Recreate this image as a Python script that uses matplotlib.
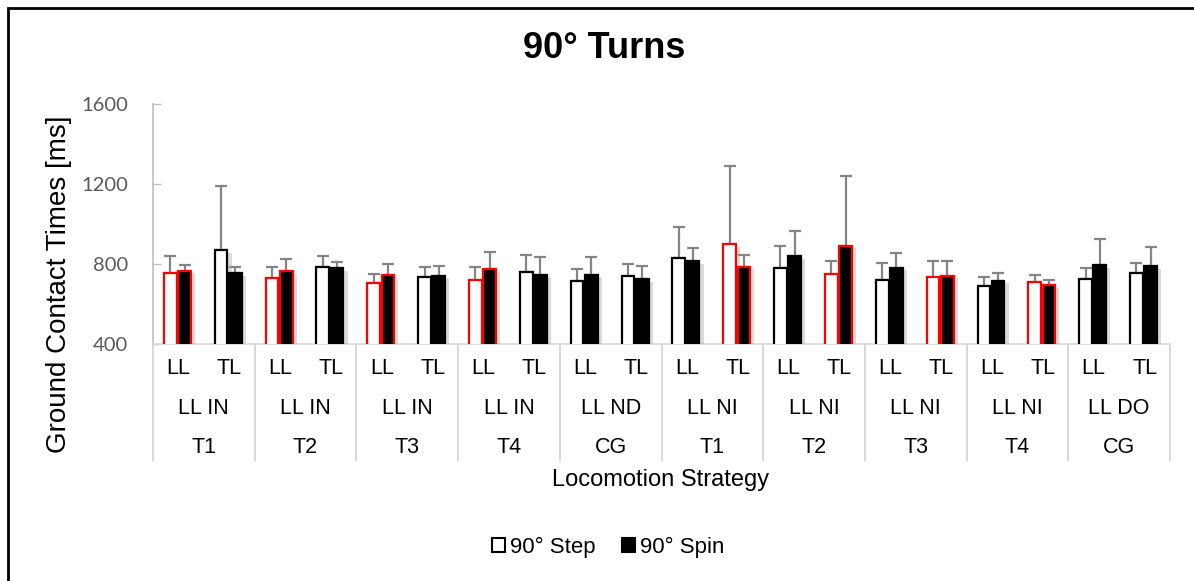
import matplotlib.pyplot as plt
import matplotlib.patheffects as pe
from matplotlib.patches import Patch, Rectangle
from matplotlib.lines import Line2D
import numpy as np

limb = ['LL', 'TL'] * 10
strategy = ['LL IN', 'LL IN', 'LL IN', 'LL IN', 'LL ND',
            'LL NI', 'LL NI', 'LL NI', 'LL NI', 'LL DO']
trial = ['T1', 'T2', 'T3', 'T4', 'CG', 'T1', 'T2', 'T3', 'T4', 'CG']

step_mean = [755, 868, 732, 783, 705, 735, 718, 762, 715, 742,
             828, 900, 780, 752, 718, 733, 692, 712, 727, 757]
step_sd = [83, 324, 55, 55, 43, 50, 69, 83, 62, 60,
           159, 390, 112, 63, 85, 84, 41, 31, 51, 50]
spin_mean = [765, 755, 765, 778, 747, 742, 773, 747, 747, 725,
             813, 787, 840, 892, 782, 742, 717, 693, 795, 788]
spin_sd = [30, 28, 60, 32, 51, 50, 89, 86, 86, 67,
           67, 60, 125, 348, 73, 71, 40, 27, 132, 97]
# categories whose bars are outlined in red
highlight = [1, 0, 1, 0, 1, 0, 1, 0, 0, 0,
             0, 1, 0, 1, 0, 1, 0, 1, 0, 0]

plt.rcParams['font.family'] = ['Liberation Sans', 'DejaVu Sans']

fig = plt.figure(figsize=(11.94, 5.81), dpi=100)
ax = fig.add_axes([153/1194, 1-344/581, (1170-153)/1194, 240/581])

x = np.arange(len(step_mean))
edges = ['#ff0000' if h else 'black' for h in highlight]
shadow = [pe.SimplePatchShadow(offset=(3, -2), shadow_rgbFace='#9a9a9a', alpha=0.35), pe.Normal()]
w = 0.25

b1 = ax.bar(x - 0.16, step_mean, w, color='white', edgecolor=edges, linewidth=1.6, zorder=3)
b2 = ax.bar(x + 0.12, spin_mean, w, color='black', edgecolor=edges, linewidth=1.6, zorder=3)
for b in list(b1) + list(b2):
    b.set_path_effects(shadow)

for off, m, s in [(-0.16, step_mean, step_sd), (0.12, spin_mean, spin_sd)]:
    ax.errorbar(x + off, m, yerr=[np.zeros(len(s)), s], fmt='none', ecolor='#858585',
                elinewidth=1.6, capsize=4.5, capthick=1.6, zorder=2)

ax.set_xlim(-0.5, len(x) - 0.5)
ax.set_ylim(400, 1600)
ax.set_yticks([400, 800, 1200, 1600])
ax.tick_params(axis='y', direction='in', length=5.5, width=1, color='#bfbfbf',
               labelcolor='#595959', labelsize=14.5, pad=18)
for lab in ax.get_yticklabels():
    lab.set_family(['Lato', 'DejaVu Sans'])
ax.set_xticks([])
for sp in ['top', 'right']:
    ax.spines[sp].set_visible(False)
ax.spines['left'].set_color('#bfbfbf')
ax.spines['bottom'].set_color('#d9d9d9')
ax.spines['left'].set_linewidth(1.2)
ax.spines['bottom'].set_linewidth(1.2)

# multi-level category labels
trans = ax.get_xaxis_transform()
for i, t in enumerate(limb):
    ax.text(i, -0.1, t, transform=trans, ha='center', va='center', fontsize=15.5)
for j in range(len(strategy)):
    ax.text(2*j + 0.5, -0.27, strategy[j], transform=trans, ha='center', va='center', fontsize=15.5)
    ax.text(2*j + 0.5, -0.43, trial[j], transform=trans, ha='center', va='center', fontsize=15.5)
for j in range(len(strategy) + 1):
    ax.add_line(Line2D([2*j - 0.5, 2*j - 0.5], [0, -0.483], transform=trans,
                       color='#d9d9d9', lw=1.5, clip_on=False))

fig.text(661/1194, 1-480/581, 'Locomotion Strategy', ha='center', va='center', fontsize=17)
fig.text(59/1194, 1-284/581, 'Ground Contact Times [ms]', rotation=90,
         ha='center', va='center', fontsize=20)
fig.text(604/1194, 1-49/581, '90° Turns', ha='center', va='center',
         fontsize=26, fontweight='bold')

handles = [Patch(facecolor='white', edgecolor='black', linewidth=1.5),
           Patch(facecolor='black', edgecolor='black', linewidth=1.5)]
fig.legend(handles, ['90° Step', '90° Spin'], loc='center', ncol=2,
           bbox_to_anchor=(608/1194, 1-547/581), frameon=False, fontsize=16,
           handlelength=0.6, handleheight=0.6, handletextpad=0.2, columnspacing=1.2)

fig.patches.append(Rectangle((8/1194, -0.5), 2, 1.5 - 8/581, transform=fig.transFigure,
                             fill=False, edgecolor='black', linewidth=2))

fig.savefig('out.png', dpi=100)
